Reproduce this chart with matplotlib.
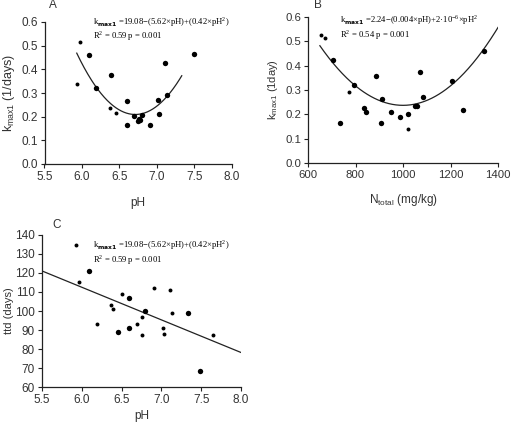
import matplotlib
matplotlib.use("Agg")
import matplotlib.pyplot as plt
import numpy as np

# Panel A: kmax1 vs pH
ph_a = [5.93, 5.97, 6.09, 6.19, 6.39, 6.37, 6.46, 6.60, 6.60, 6.70,
        6.76, 6.77, 6.75, 6.80, 6.91, 7.02, 7.03, 7.11, 7.13, 7.49]
kmax_a = [0.339, 0.516, 0.462, 0.322, 0.375, 0.235, 0.215, 0.266, 0.165, 0.203,
          0.190, 0.186, 0.180, 0.208, 0.165, 0.271, 0.210, 0.425, 0.292, 0.464]
big_a = [0, 0, 1, 1, 1, 0, 0, 1, 1, 1, 1, 1, 1, 1, 1, 1, 1, 1, 1, 1]
fit_a = [0.426, -5.717, 19.39]      # quadratic fit, highest power first
fit_a_range = [5.93, 7.33]

# Panel B: kmax1 vs Ntotal
n_b = [656, 670, 705, 736, 772, 792, 834, 845, 887, 910, 906,
       948, 987, 1022, 1020, 1052, 1059, 1071, 1085, 1208, 1253, 1340]
kmax_b = [0.524, 0.514, 0.423, 0.164, 0.292, 0.319, 0.224, 0.210, 0.356, 0.265, 0.165,
          0.209, 0.190, 0.203, 0.139, 0.233, 0.233, 0.372, 0.271, 0.337, 0.218, 0.460]
big_b = [0, 0, 1, 1, 0, 1, 1, 1, 1, 1, 1, 1, 1, 1, 0, 1, 1, 1, 1, 1, 1, 1]
fit_b = [2e-6, -0.004, 2.237]
fit_b_range = [650, 1400]

# Panel C: ttd vs pH
ph_c = [5.925, 6.095, 5.97, 6.19, 6.37, 6.395, 6.51, 6.595, 6.45, 6.595, 6.69,
        6.79, 6.76, 6.75, 6.91, 7.02, 7.03, 7.11, 7.13, 7.33, 7.645, 7.48]
ttd_c = [134.5, 120.8, 115.0, 93.0, 102.9, 100.8, 109.0, 106.8, 89.0, 91.0, 93.0,
         100.0, 96.8, 87.2, 111.8, 91.0, 87.9, 110.8, 99.0, 99.0, 87.2, 68.3]
big_c = [0, 1, 0, 0, 0, 0, 0, 1, 1, 1, 0, 1, 0, 0, 0, 0, 0, 0, 0, 1, 0, 1]
fit_c = [-17.1, 215.05]
fit_c_range = [5.5, 8.0]

TICK_FONT = "Liberation Sans"
EQ_FONT = "Liberation Serif"
GREY = "#333333"


def style_axes(ax, xlim, xticks, ylim, yticks, yfmt, labelsize=8.5):
    """Excel-like axes: left/bottom spines only, outward ticks."""
    for side in ("top", "right"):
        ax.spines[side].set_visible(False)
    for side in ("left", "bottom"):
        ax.spines[side].set_color("#222222")
        ax.spines[side].set_linewidth(0.9)
    ax.set_xlim(xlim)
    ax.set_ylim(ylim)
    ax.set_xticks(xticks)
    ax.set_yticks(yticks)
    ax.set_yticklabels([yfmt.format(v) for v in yticks])
    ax.tick_params(direction="out", length=3, width=0.8, colors="#222222",
                   labelsize=labelsize, labelcolor=GREY, pad=2)
    for lab in ax.get_xticklabels() + ax.get_yticklabels():
        lab.set_fontfamily(TICK_FONT)


def scatter(ax, x, y, big):
    x = np.asarray(x)
    y = np.asarray(y)
    big = np.asarray(big, dtype=bool)
    ax.scatter(x[~big], y[~big], s=8, color="black", zorder=3, linewidths=0)
    ax.scatter(x[big], y[big], s=15, color="black", zorder=3, linewidths=0)


def fit_line(ax, coeffs, xrange_):
    xs = np.linspace(xrange_[0], xrange_[1], 200)
    ax.plot(xs, np.polyval(coeffs, xs), color="#222222", lw=0.9, zorder=2)


def equation(ax, x, y1, y2, line1, line2):
    ax.text(x, y1, line1, transform=ax.transAxes, fontsize=6.2, family=EQ_FONT,
            va="center", ha="left", color="black")
    ax.text(x, y2, line2, transform=ax.transAxes, fontsize=6.2, family=EQ_FONT,
            va="center", ha="left", color="black")


fig = plt.figure(figsize=(5.12, 4.24), dpi=100)
fig.patch.set_facecolor("white")

eq_ph = r"k$_{\mathregular{\mathbf{max1}}}$ =19.08−(5.62×pH)+(0.42×pH$^{\mathregular{2}}$)"

# ---- A
ax_a = fig.add_axes([44.5 / 512, 1 - 164 / 424, 187.5 / 512, 142 / 424])
scatter(ax_a, ph_a, kmax_a, big_a)
fit_line(ax_a, fit_a, fit_a_range)
style_axes(ax_a, (5.5, 8.0), np.arange(5.5, 8.01, 0.5), (0, 0.6),
           np.round(np.arange(0, 0.61, 0.1), 1), "{:.1f}")
ax_a.set_xticklabels(["5.5", "6.0", "6.5", "7.0", "7.5", "8.0"])
ax_a.set_xlabel("pH", fontsize=8.5, family=TICK_FONT, color=GREY, labelpad=10)
ax_a.set_ylabel(r"k$_{\mathregular{max1}}$ (1/days)", fontsize=9,
                family=TICK_FONT, color=GREY, labelpad=3)
equation(ax_a, 0.26, 1.0, 0.90, eq_ph, r"R$^{\mathregular{2}}$ = 0.59 p = 0.001")
fig.text(53 / 512, 1 - 5 / 424, "A", fontsize=8.5, family=TICK_FONT, color=GREY,
         ha="center", va="center")

# ---- B
ax_b = fig.add_axes([308 / 512, 1 - 163 / 424, 190 / 512, 146 / 424])
scatter(ax_b, n_b, kmax_b, big_b)
fit_line(ax_b, fit_b, fit_b_range)
style_axes(ax_b, (600, 1400), np.arange(600, 1401, 200), (0, 0.6),
           np.round(np.arange(0, 0.61, 0.1), 1), "{:.1f}", labelsize=8.2)
ax_b.set_xlabel(r"N$_{\mathregular{total}}$ (mg/kg)", fontsize=8.5, family=TICK_FONT,
                color=GREY, labelpad=9)
ax_b.set_ylabel(r"k$_{\mathregular{max1}}$ (1day)", fontsize=8,
                family=TICK_FONT, color=GREY, labelpad=4)
equation(ax_b, 0.17, 0.98, 0.877,
         r"k$_{\mathregular{\mathbf{max1}}}$ =2.24−(0.004×pH)+2·10$^{\mathregular{-6}}$×pH$^{\mathregular{2}}$",
         r"R$^{\mathregular{2}}$ = 0.54 p = 0.001")
fig.text(318 / 512, 1 - 5 / 424, "B", fontsize=8.5, family=TICK_FONT, color=GREY,
         ha="center", va="center")

# ---- C
ax_c = fig.add_axes([42 / 512, 1 - 387.3 / 424, 199 / 512, 152.6 / 424])
scatter(ax_c, ph_c, ttd_c, big_c)
fit_line(ax_c, fit_c, fit_c_range)
style_axes(ax_c, (5.5, 8.0), np.arange(5.5, 8.01, 0.5), (60, 140),
           np.arange(60, 141, 10), "{:d}")
ax_c.set_xticklabels(["5.5", "6.0", "6.5", "7.0", "7.5", "8.0"])
ax_c.set_xlabel("pH", fontsize=8.5, family=TICK_FONT, color=GREY, labelpad=3)
ax_c.set_ylabel("ttd (days)", fontsize=8, family=TICK_FONT, color=GREY, labelpad=1)
equation(ax_c, 0.256, 0.93, 0.83, eq_ph, r"R$^{\mathregular{2}}$ = 0.59 p = 0.001")
fig.text(57 / 512, 1 - 225 / 424, "C", fontsize=8.5, family=TICK_FONT, color=GREY,
         ha="center", va="center")

fig.savefig("out.png", dpi=100, facecolor="white")
